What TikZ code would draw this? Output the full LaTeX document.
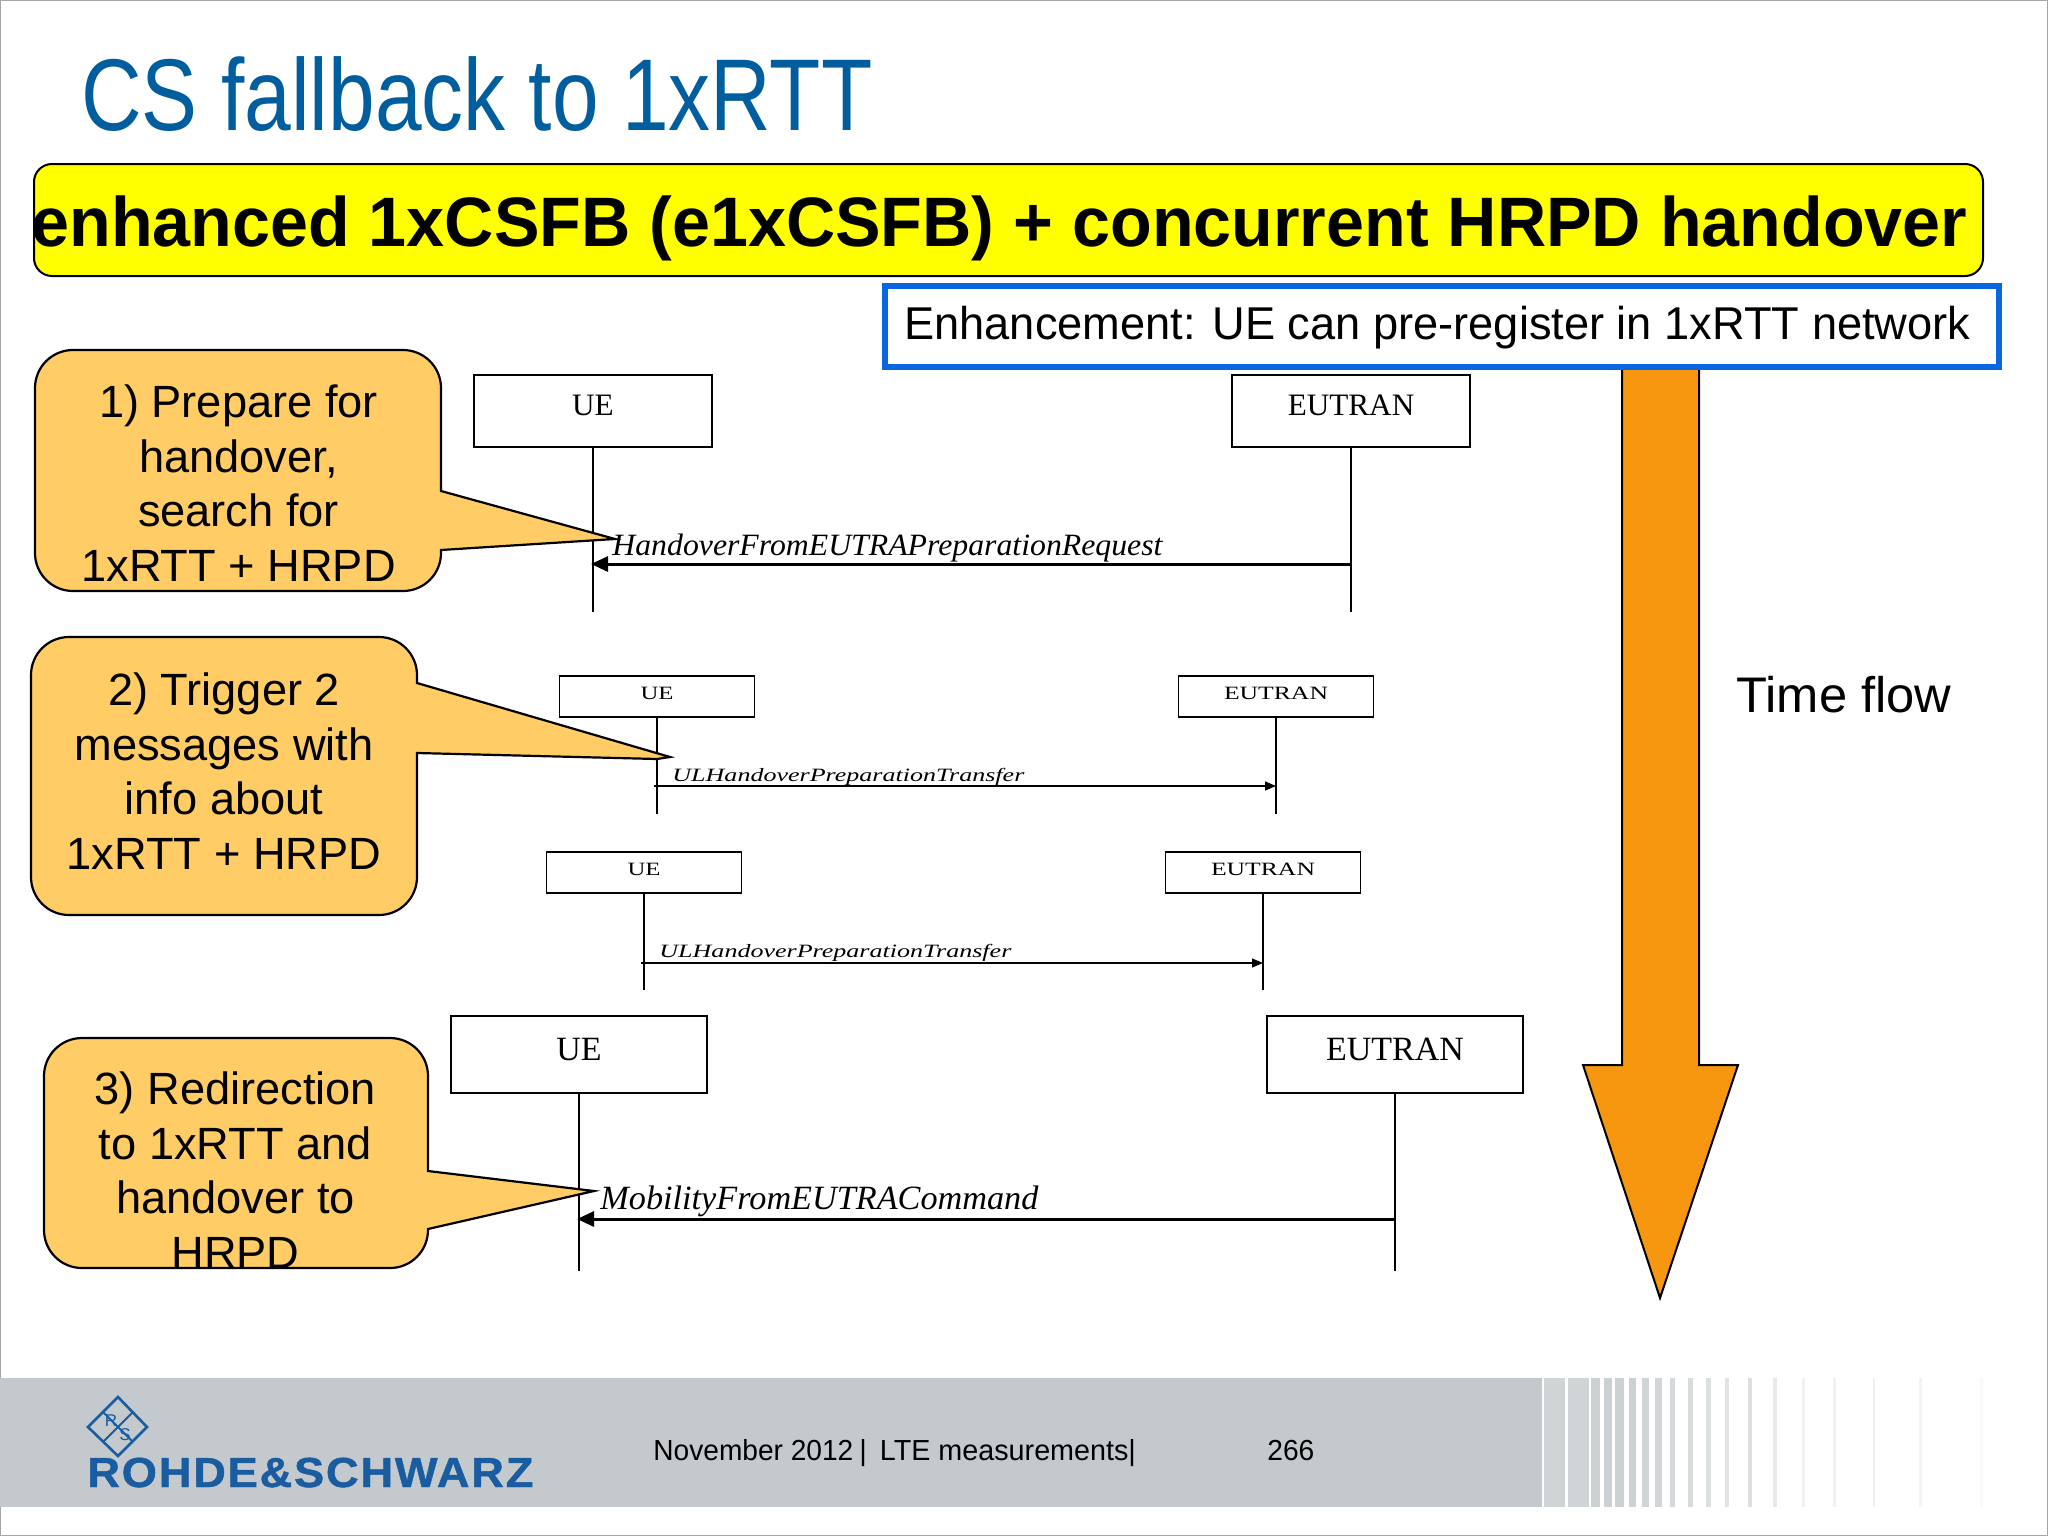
\documentclass[tikz,border=0pt]{standalone}
\usepackage{graphicx}
\usepackage{fontspec}
\setmainfont{Liberation Sans}
\newfontfamily\serf{Liberation Serif}
\newfontfamily\rsfont[FakeBold=1,LetterSpace=4]{Liberation Sans Bold}
\usetikzlibrary{arrows.meta}
\definecolor{titleblue}{HTML}{005E9E}
\definecolor{enhblue}{HTML}{0A66E0}
\definecolor{bannerfill}{RGB}{255,255,0}
\definecolor{calloutfill}{HTML}{FFCC66}
\definecolor{flow}{HTML}{F7970F}
\definecolor{band}{HTML}{C3C9CC}
\definecolor{rsblue}{HTML}{1A5CA0}
\newcommand{\fitw}[2]{\resizebox{#1pt}{\height}{#2}}
\newcommand{\callout}[8]{% x1,y1,x2,y2,pa,tip,pb,extra
  \filldraw[callout] (#3,#5) -- (#6) -- #8 (#3,#7) [rounded corners=19pt] -- (#3,#4) -- (#1,#4) -- (#1,#2) -- (#3,#2) [sharp corners] -- cycle;
}
\tikzset{
  callout/.style={fill=calloutfill,draw=black,line width=1.1pt,line join=miter},
  calltext/.style={font=\fontsize{22.6}{27.3}\selectfont,align=center,inner sep=0pt,text=black},
  entity/.style={draw=black,line width=1.1pt,fill=white,inner sep=0pt,font=\serf},
  bigent/.style={entity,minimum width=119pt,minimum height=36pt,font=\fontsize{15.6}{18}\selectfont\serf,text height=6pt,text depth=2pt},
  smallent/.style={entity,line width=.8pt,minimum width=97.5pt,minimum height=20.5pt,text height=5pt,text depth=2pt},
  hugeent/.style={entity,minimum width=128pt,minimum height=38.5pt,font=\fontsize{17}{20}\selectfont\serf,text height=7.5pt,text depth=2pt},
  life/.style={draw=black,line width=.8pt},
  msgbig/.style={draw=black,line width=1.5pt,-{Triangle[length=8.5pt,width=7.5pt]}},
  msgsmall/.style={draw=black,line width=.65pt,-{Triangle[length=5.5pt,width=4.5pt]}},
  lbl/.style={anchor=base west,inner sep=0pt,font=\serf\itshape},
  plain/.style={anchor=base west,inner sep=0pt}
}
\begin{document}
\begin{tikzpicture}[x=0.5pt,y=-0.5pt]
\useasboundingbox (0,0) rectangle (2048,1536);
\fill[white] (0,0) rectangle (2048,1536);
\draw[gray!70,line width=.8pt] (0.5,0.5) rectangle (2047.5,1535.5);
% title
\node[plain,text=titleblue,font=\fontsize{51}{60}\selectfont] (title) at (81,130) {\fitw{395.5}{CS fallback to 1xRTT}};
% yellow banner
\node[draw=black,fill=bannerfill,line width=1pt,rounded corners=9pt,minimum width=974.5pt,minimum height=56pt,inner sep=0pt,anchor=north west] (banner) at (33,163) {};
\node[plain,font=\fontsize{35}{40}\selectfont\bfseries] (bannertext) at (31,246) {\fitw{968}{enhanced 1xCSFB (e1xCSFB) + concurrent HRPD handover}};
% flow arrow
\filldraw[fill=flow,draw=black,line width=1pt,line join=miter] (1622,367) -- (1622,1065) -- (1583,1065) -- (1660,1298) -- (1738,1065) -- (1699,1065) -- (1699,367) -- cycle;
\node[plain,font=\fontsize{25}{30}\selectfont] (flowtext) at (1736,712) {\fitw{107.5}{Time flow}};
% blue box
\node[draw=enhblue,fill=white,line width=3.2pt,minimum width=557pt,minimum height=40.5pt,inner sep=0pt,anchor=north west] (enh) at (882,283) {};
\node[plain,font=\fontsize{23}{28}\selectfont] (enhtext) at (904,339) {\fitw{533}{Enhancement: UE can pre-register in 1xRTT network}};
% sequence 1
\node[bigent] (ue1) at (593,411) {UE};
\node[bigent] (en1) at (1351,411) {EUTRAN};
\coordinate (ue1e) at (593,612);
\coordinate (en1e) at (1351,612);
\coordinate (ue1m) at (591,564);
\coordinate (en1m) at (1351,564);
\draw[life] (ue1) -- (ue1e);
\draw[life] (en1) -- (en1e);
\draw[msgbig] (en1m) -- (ue1m);
\node[lbl,font=\fontsize{15.5}{18}\selectfont\serf\itshape] (l1) at (612,555) {\fitw{275}{HandoverFromEUTRAPreparationRequest}};
% sequence 2
\node[smallent] (ue2) at (657,696.5) {\fontsize{9.4}{11}\selectfont\fitw{16.5}{UE}};
\node[smallent] (en2) at (1276,696.5) {\fontsize{9.4}{11}\selectfont\fitw{52}{EUTRAN}};
\coordinate (ue2e) at (657,814);
\coordinate (en2e) at (1276,814);
\coordinate (ue2m) at (654,786);
\coordinate (en2m) at (1276,786);
\draw[life] (ue2) -- (ue2e);
\draw[life] (en2) -- (en2e);
\draw[msgsmall] (ue2m) -- (en2m);
\node[lbl,font=\fontsize{9.4}{11}\selectfont\serf\itshape] (l2) at (672,781) {\fitw{176}{ULHandoverPreparationTransfer}};
% sequence 3
\node[smallent] (ue3) at (644,872.5) {\fontsize{9.4}{11}\selectfont\fitw{16.5}{UE}};
\node[smallent] (en3) at (1263,872.5) {\fontsize{9.4}{11}\selectfont\fitw{52}{EUTRAN}};
\coordinate (ue3e) at (644,990);
\coordinate (en3e) at (1263,990);
\coordinate (ue3m) at (641,963);
\coordinate (en3m) at (1263,963);
\draw[life] (ue3) -- (ue3e);
\draw[life] (en3) -- (en3e);
\draw[msgsmall] (ue3m) -- (en3m);
\node[lbl,font=\fontsize{9.4}{11}\selectfont\serf\itshape] (l3) at (659,957) {\fitw{176}{ULHandoverPreparationTransfer}};
% sequence 4
\node[hugeent] (ue4) at (579,1054.5) {UE};
\node[hugeent] (en4) at (1395,1054.5) {EUTRAN};
\coordinate (ue4e) at (579,1271);
\coordinate (en4e) at (1395,1271);
\coordinate (ue4m) at (577,1219);
\coordinate (en4m) at (1395,1219);
\draw[life] (ue4) -- (ue4e);
\draw[life] (en4) -- (en4e);
\draw[msgbig] (en4m) -- (ue4m);
\node[lbl,font=\fontsize{17}{20}\selectfont\serf\itshape] (l4) at (600,1209) {\fitw{219}{MobilityFromEUTRACommand}};
% callouts
\callout{35}{350}{441}{591}{491}{615,539}{550}{}
\node[calltext] (c1) at (238.5,483) {1) Prepare for\\handover,\\search for\\1xRTT + HRPD};
\callout{31}{637}{417}{915}{683}{670,757}{753}{(657,759) --}
\node[calltext] (c2) at (224,771) {2) Trigger 2\\messages with\\info about\\1xRTT + HRPD};
\callout{44}{1038}{428}{1268}{1171}{594,1191}{1229}{}
\node[calltext] (c3) at (235.5,1170) {3) Redirection\\to 1xRTT and\\handover to\\HRPD};
% footer band
\fill[band] (0,1378) rectangle (1542,1507);
\begin{scope}[shift={(1400,0)},xscale=0.4132]
\foreach \a/\b/\o in {348/400/80,406/457/80,463/485/85,493/513/85,521/543/85,555/572/85,585/603/80,616/633/75,654/666/70,698/708/65,741/753/60,786/797/50,842/851/60,902/912/40,974/981/25,1049/1056/25,1144/1150/25,1257/1263/20,1403/1411/12}
  \fill[band!\o!white] (\a,1378) rectangle (\b,1507);
\end{scope}
\node[plain,font=\fontsize{14.5}{17}\selectfont] (foot1) at (653,1460) {\fitw{100}{November 2012}\kern3pt|\kern6.5pt\fitw{128}{LTE measurements|}};
\node[plain,font=\fontsize{14.5}{17}\selectfont] (foot2) at (1267,1460) {\fitw{23.5}{266}};
% logo
\draw[rsblue,line width=1.3pt,line join=miter] (118,1397) -- (147,1427) -- (118,1456) -- (88,1427) -- cycle;
\draw[rsblue,line width=1pt] (103,1412) -- (133,1442) (133,1412) -- (103,1442);
\node[text=rsblue,font=\fontsize{8.5}{9}\selectfont,inner sep=0pt] (logor) at (111,1421) {R};
\node[text=rsblue,font=\fontsize{8.5}{9}\selectfont,inner sep=0pt] (logos) at (125,1435) {S};
\node[plain,text=rsblue,font=\fontsize{21}{24}\selectfont\rsfont] (rs) at (87,1487) {\fitw{223}{ROHDE\&SCHWARZ}};
\end{tikzpicture}
\end{document}
